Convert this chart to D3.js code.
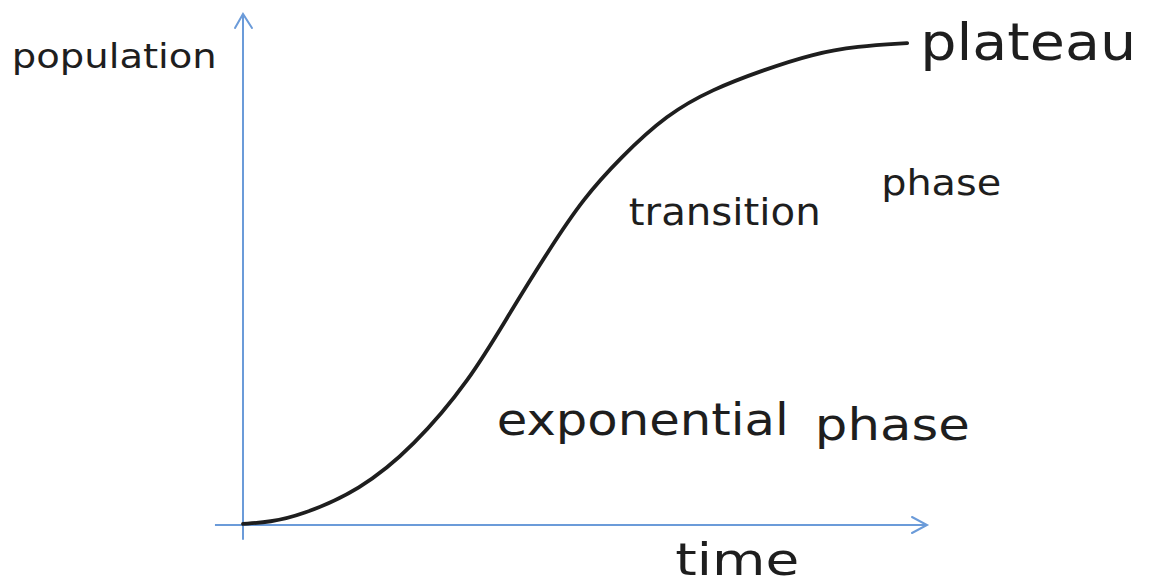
<!DOCTYPE html>
<html>
<head>
<meta charset="utf-8">
<script src="https://cdn.jsdelivr.net/npm/d3@7"></script>
<style>
  body { margin: 0; background: #fff; }
  svg { display: block; }
</style>
</head>
<body>
<div id="chart"></div>
<script>
// hand-sketched logistic growth curve, values in arbitrary units (0-100)
var times = [0, 4.0, 8.3, 17.1, 24.9, 33.2, 39.0, 44.9, 49.7, 55.1, 62.0, 68.7, 76.0, 83.3, 89.8, 97.1];
var population = [0.2, 0.6, 1.8, 6.8, 15.3, 28.4, 41.5, 54.2, 63.8, 71.8, 80.4, 85.3, 89.0, 92.2, 93.7, 94.3];

// annotation labels, anchored in data units
var labelText = ["population", "plateau", "transition", "phase", "exponential", "phase", "time"];
var labelT    = [-33.8, 99.0, 56.4, 93.3, 37.1, 83.6, 63.2];
var labelP    = [89.4, 91.0, 58.7, 64.6, 17.6, 16.6, -9.8];
var labelSize = [34, 52, 38, 36, 44, 44, 44];
var labelLen  = [205, 216, 192, 120, 292, 155, 124];

var width = 1153,
    height = 587;

var svg = d3.select("#chart")
    .append("svg")
    .attr("width", width)
    .attr("height", height);

var x = d3.scaleLinear()
    .domain([0, 100])
    .range([243, 927]);

var y = d3.scaleLinear()
    .domain([0, 100])
    .range([525, 14]);

var axisColor = "#6b9bd9";

// axes drawn as plain lines with open arrow heads
svg.append("line")
    .attr("x1", x(0)).attr("y1", y(-2.9))
    .attr("x2", x(0)).attr("y2", y(100))
    .attr("stroke", axisColor)
    .attr("stroke-width", 2);

svg.append("line")
    .attr("x1", x(-4.1)).attr("y1", y(0))
    .attr("x2", x(100)).attr("y2", y(0))
    .attr("stroke", axisColor)
    .attr("stroke-width", 2);

svg.append("path")
    .attr("d", "M" + (x(0) - 8) + "," + (y(100) + 14) + "L" + x(0) + "," + y(100) + "L" + (x(0) + 9) + "," + (y(100) + 14))
    .attr("fill", "none")
    .attr("stroke", axisColor)
    .attr("stroke-width", 2)
    .attr("stroke-linecap", "round");

svg.append("path")
    .attr("d", "M" + (x(100) - 15) + "," + (y(0) - 8) + "L" + x(100) + "," + y(0) + "L" + (x(100) - 15) + "," + (y(0) + 8))
    .attr("fill", "none")
    .attr("stroke", axisColor)
    .attr("stroke-width", 2)
    .attr("stroke-linecap", "round");

// the curve
var line = d3.line()
    .x(function(d, i) { return x(times[i]); })
    .y(function(d, i) { return y(population[i]); })
    .curve(d3.curveBasis);

svg.append("path")
    .datum(times)
    .attr("d", line)
    .attr("fill", "none")
    .attr("stroke", "#1e1e1e")
    .attr("stroke-width", 3.8)
    .attr("stroke-linecap", "round");

// labels
svg.selectAll("text.lbl")
    .data(labelText)
    .enter()
    .append("text")
    .attr("class", "lbl")
    .attr("x", function(d, i) { return x(labelT[i]); })
    .attr("y", function(d, i) { return y(labelP[i]); })
    .attr("textLength", function(d, i) { return labelLen[i]; })
    .attr("lengthAdjust", "spacingAndGlyphs")
    .style("font-family", "'DejaVu Sans', sans-serif")
    .style("font-size", function(d, i) { return labelSize[i] + "px"; })
    .style("fill", "#1e1e1e")
    .text(function(d) { return d; });
</script>
</body>
</html>
